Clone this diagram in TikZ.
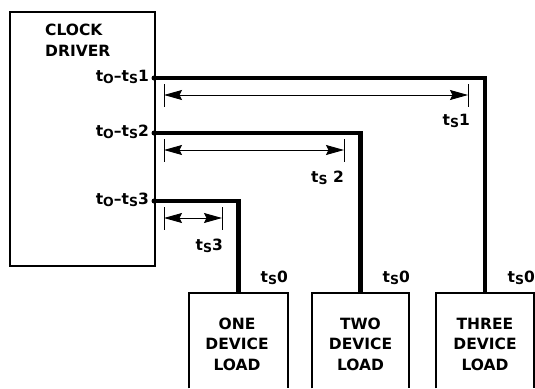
\documentclass[tikz,border=0pt]{standalone}
\usepackage{fontspec}
\setmainfont{DejaVu Sans}[BoldFont={DejaVu Sans Bold}]
\usetikzlibrary{arrows.meta}
\newcommand{\lsub}[1]{\raisebox{-0.3ex}{\fontsize{12.5}{12.5}\selectfont #1}}
\begin{document}
\begin{tikzpicture}[x=1pt,y=-1pt,
  lbl/.style={font=\bfseries\fontsize{15.5}{20}\selectfont, inner sep=0pt},
  boxline/.style={line width=2.2pt},
  wire/.style={line width=4.6pt, line join=miter},
  dim/.style={line width=0.9pt, {Stealth[length=18pt,width=10pt,inset=2.5pt]}-{Stealth[length=18pt,width=10pt,inset=2.5pt]}},
  tick/.style={line width=1pt},
  loadbox/.style={draw=none, minimum width=99pt, minimum height=95pt, inner sep=0pt, anchor=north},
  port/.style={circle, fill, inner sep=0pt, minimum size=5pt}
]
\useasboundingbox (0,0) rectangle (535,388);
% clock driver
\node[draw, boxline, minimum width=145pt, minimum height=254pt, inner sep=0pt, anchor=north west] (cd) at (9,11) {};
\node[lbl, anchor=base west] (cdl1) at (45,35.6) {CLOCK};
\node[lbl, anchor=base west] (cdl2) at (45,56.8) {DRIVER};
% ports
\node[port] (p1) at (154,78) {};
\node[port] (p2) at (154,133) {};
\node[port] (p3) at (154,201) {};
\node[lbl, anchor=base east] (pl1) at (149,81) {t\lsub{O}–t\lsub{S}1};
\node[lbl, anchor=base east] (pl2) at (149,136) {t\lsub{O}–t\lsub{S}2};
\node[lbl, anchor=base east] (pl3) at (149,204) {t\lsub{O}–t\lsub{S}3};
% loads
\node[loadbox, minimum width=99pt] (l1) at (238.5,293) {};
\node[loadbox, minimum width=97pt] (l2) at (360.5,293) {};
\node[loadbox, minimum width=98pt] (l3) at (485,293) {};
\foreach \b in {l1,l2,l3}{
  \draw[boxline] (\b.south west) -- (\b.north west) -- (\b.north east) -- (\b.south east);
}
\node[lbl, anchor=base] (l1a) at (237,329) {ONE};
\node[lbl, anchor=base] (l1b) at (237,349.7) {DEVICE};
\node[lbl, anchor=base] (l1c) at (237,370.4) {LOAD};
\node[lbl, anchor=base] (l2a) at (360.5,329) {TWO};
\node[lbl, anchor=base] (l2b) at (360.5,349.7) {DEVICE};
\node[lbl, anchor=base] (l2c) at (360.5,370.4) {LOAD};
\node[lbl, anchor=base] (l3a) at (485,329) {THREE};
\node[lbl, anchor=base] (l3b) at (485,349.7) {DEVICE};
\node[lbl, anchor=base] (l3c) at (485,370.4) {LOAD};
% wires
\draw[wire] (p1.center) -| (l3.north);
\draw[wire] (p2.center) -| (l2.north);
\draw[wire] (p3.center) -| (l1.north);
% dimension arrows
\coordinate (a1s) at (164,95); \coordinate (a1e) at (468,95);
\coordinate (a2s) at (164,150); \coordinate (a2e) at (344,150);
\coordinate (a3s) at (164,218); \coordinate (a3e) at (222,218);
\foreach \s/\e in {a1s/a1e,a2s/a2e,a3s/a3e}{
  \draw[dim] (\s) -- (\e);
  \draw[tick] ([yshift=-11.5pt]\s) -- ([yshift=11.5pt]\s);
  \draw[tick] ([yshift=-11.5pt]\e) -- ([yshift=11.5pt]\e);
}
\node[lbl, anchor=base east] (t1) at (470,125) {t\lsub{S}1};
\node[lbl, anchor=base east] (t2) at (344,182) {t\lsub{S} 2};
\node[lbl, anchor=base east] (t3) at (223,250) {t\lsub{S}3};
\node[lbl, anchor=base east] (t01) at (288,282) {t\lsub{S}0};
\node[lbl, anchor=base east] (t02) at (410,282) {t\lsub{S}0};
\node[lbl, anchor=base east] (t03) at (535,282) {t\lsub{S}0};
\end{tikzpicture}
\end{document}
